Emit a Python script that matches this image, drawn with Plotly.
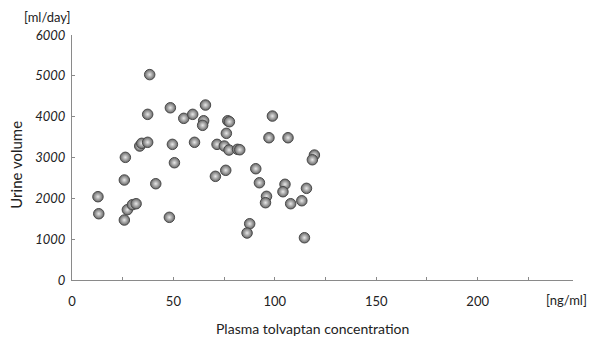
import plotly.graph_objects as go

# Plasma tolvaptan concentration [ng/ml]
concentration = [12.8, 13.2, 26.3, 25.8, 25.8, 27.3, 29.8, 31.6, 33.4, 34.4,
                 37.3, 37.3, 38.3, 41.3, 48.0, 48.5, 49.5, 50.5, 55.1, 59.5,
                 60.4, 65.8, 64.9, 64.4, 76.8, 77.6, 76.1, 71.5, 75.1, 77.4,
                 81.6, 82.7, 75.8, 70.7, 98.8, 97.1, 106.5, 119.5, 118.5, 90.6,
                 92.4, 105.0, 104.0, 115.6, 95.9, 95.4, 113.3, 107.8, 87.6, 86.3,
                 114.6]
# Urine volume [ml/day]
urine_volume = [2040, 1623, 3004, 2449, 1469, 1722, 1844, 1868, 3281, 3347,
                3372, 4057, 5030, 2358, 1535, 4218, 3322, 2872, 3959, 4057,
                3372, 4285, 3900, 3788, 3900, 3876, 3592, 3322, 3281, 3183,
                3200, 3190, 2686, 2539, 4015, 3484, 3484, 3060, 2945, 2725,
                2382, 2344, 2162, 2245, 2049, 1893, 1941, 1868, 1378, 1151,
                1035]

x_tickvals = [0, 25, 50, 75, 100, 125, 150, 175, 200, 225]
x_ticktext = ["0", "", "50", "", "100", "", "150", "", "200", ""]
y_tickvals = [0, 1000, 2000, 3000, 4000, 5000, 6000]
y_ticktext = ["0", "1000", "2000", "3000", "4000", "5000", "6000"]

FONT = "Lato"
AX = "#8a8a8a"

fig = go.Figure(go.Scatter(
    x=concentration, y=urine_volume, mode="markers",
    marker=dict(size=10.5, color="#666666",
                gradient=dict(type="radial", color="#e8e8e8"),
                line=dict(color="#4a4a4a", width=1)),
    hoverinfo="x+y", showlegend=False,
))

fig.update_layout(
    width=590, height=341,
    margin=dict(l=72, r=17, t=35, b=61),
    paper_bgcolor="white", plot_bgcolor="white",
    font=dict(family=FONT, size=13, color="#222222"),
    xaxis=dict(range=[0, 247], tickvals=x_tickvals, ticktext=x_ticktext,
               ticks="inside", ticklen=3, tickcolor=AX, tickwidth=1,
               showline=True, linecolor=AX, linewidth=1, showgrid=False,
               zeroline=False, ticklabelstandoff=9,
               tickfont=dict(family=FONT, size=13, color="#222222")),
    yaxis=dict(range=[0, 6000], tickvals=y_tickvals, ticktext=y_ticktext,
               ticks="inside", ticklen=3, tickcolor=AX, tickwidth=1,
               showline=True, linecolor=AX, linewidth=1, showgrid=False,
               zeroline=False, ticklabelstandoff=3,
               tickfont=dict(family=FONT, size=13, color="#222222", style="italic")),
    annotations=[
        dict(text="[ml/day]", xref="paper", yref="paper", x=-0.048, y=1.075,
             xanchor="center", yanchor="middle", showarrow=False,
             font=dict(family=FONT, size=13, color="#222222")),
        dict(text="[ng/ml]", xref="paper", yref="paper", x=1.032, y=-0.08,
             xanchor="right", yanchor="middle", showarrow=False,
             font=dict(family=FONT, size=13, color="#222222")),
        dict(text="Urine volume", xref="paper", yref="paper", x=-0.112, y=0.47,
             xanchor="center", yanchor="middle", showarrow=False, textangle=-90,
             font=dict(family=FONT, size=15, color="#222222")),
        dict(text="Plasma tolvaptan concentration", xref="paper", yref="paper",
             x=0.48, y=-0.196, xanchor="center", yanchor="middle", showarrow=False,
             font=dict(family=FONT, size=14, color="#222222")),
    ],
)

fig.write_html("out.html", config={"displayModeBar": False},
               post_script="document.body.style.margin='0';document.body.style.overflow='hidden';")
